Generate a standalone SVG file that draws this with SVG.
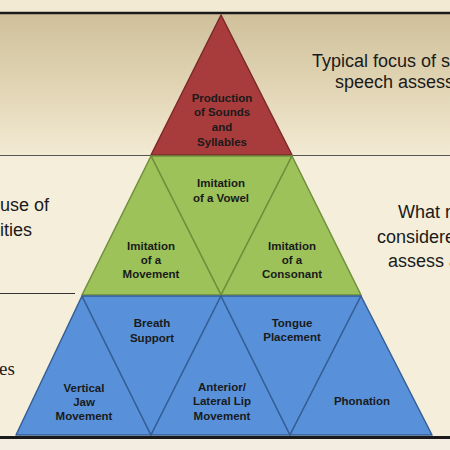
<svg xmlns="http://www.w3.org/2000/svg" width="450" height="450" viewBox="0 0 450 450">
<defs>
<linearGradient id="band" x1="0" y1="0" x2="0" y2="1">
<stop offset="0" stop-color="#cfc09a"/>
<stop offset="0.55" stop-color="#e2d6b6"/>
<stop offset="1" stop-color="#f3ead4"/>
</linearGradient>
<style>
.red{fill:#a83c3c;stroke:#7e2a2a;stroke-width:1.5;stroke-linejoin:round}
.grn{fill:#9cc259;stroke:#6f8f3a;stroke-width:1.5;stroke-linejoin:round}
.blu{fill:#5891da;stroke:#355f96;stroke-width:1.5;stroke-linejoin:round}
.lbl{font-family:"Liberation Sans",Arial,sans-serif;font-weight:bold;font-size:11.5px;fill:#1a1a1a;text-anchor:middle}
.side{font-family:"Liberation Sans",Arial,sans-serif;font-size:18px;fill:#1a1a1a}
.serif{font-family:"Liberation Serif","Times New Roman",serif;font-size:19px;fill:#1a1a1a}
</style>
</defs>
<rect x="0" y="0" width="450" height="450" fill="#f5eedb"/>
<rect x="0" y="0" width="450" height="13" fill="#f2ead3"/>
<rect x="0" y="13" width="450" height="142" fill="url(#band)"/>
<rect x="0" y="437" width="450" height="13" fill="#f2ede0"/>
<g id="rules">
<line x1="0" y1="13" x2="450" y2="13" stroke="#1a1a1a" stroke-width="2.5"/>
<line x1="0" y1="155.5" x2="450" y2="155.5" stroke="#555" stroke-width="1"/>
<line x1="0" y1="293.5" x2="75" y2="293.5" stroke="#333" stroke-width="1"/>
<line x1="0" y1="437.5" x2="450" y2="437.5" stroke="#1a1a1a" stroke-width="3"/>
</g>
<g id="side-texts">
<text class="side" x="312" y="67">Typical focus of s</text>
<text class="side" x="335" y="88">speech assess</text>
<text class="side" x="0" y="211">use of</text>
<text class="side" x="0" y="236">ities</text>
<text class="side" x="398" y="218">What r</text>
<text class="side" x="377" y="243">considere</text>
<text class="side" x="388" y="267">assess a</text>
<text class="serif" x="-1" y="375">es</text>
</g>
<g id="connectors"></g>
<g id="node-production">
<polygon class="red" points="221,15 292,155 151,155"/>
<text class="lbl" x="222" y="102">Production</text>
<text class="lbl" x="222" y="116">of Sounds</text>
<text class="lbl" x="222" y="131">and</text>
<text class="lbl" x="222" y="146">Syllables</text>
</g>
<g id="node-vowel">
<polygon class="grn" points="151,156 292,156 221,295"/>
<text class="lbl" x="221" y="187">Imitation</text>
<text class="lbl" x="221" y="202">of a Vowel</text>
</g>
<g id="node-movement">
<polygon class="grn" points="151,156 221,295 82,295"/>
<text class="lbl" x="151" y="250">Imitation</text>
<text class="lbl" x="151" y="264">of a</text>
<text class="lbl" x="151" y="278">Movement</text>
</g>
<g id="node-consonant">
<polygon class="grn" points="292,156 361,295 221,295"/>
<text class="lbl" x="292" y="250">Imitation</text>
<text class="lbl" x="292" y="264">of a</text>
<text class="lbl" x="292" y="278">Consonant</text>
</g>
<g id="node-jaw">
<polygon class="blu" points="82,296 151,435 16,435"/>
<text class="lbl" x="84" y="392">Vertical</text>
<text class="lbl" x="84" y="406">Jaw</text>
<text class="lbl" x="84" y="420">Movement</text>
</g>
<g id="node-breath">
<polygon class="blu" points="82,296 221,296 151,435"/>
<text class="lbl" x="152" y="327">Breath</text>
<text class="lbl" x="152" y="342">Support</text>
</g>
<g id="node-lip">
<polygon class="blu" points="221,296 290,435 151,435"/>
<text class="lbl" x="222" y="391">Anterior/</text>
<text class="lbl" x="222" y="405">Lateral Lip</text>
<text class="lbl" x="222" y="420">Movement</text>
</g>
<g id="node-tongue">
<polygon class="blu" points="221,296 361,296 290,435"/>
<text class="lbl" x="292" y="327">Tongue</text>
<text class="lbl" x="292" y="341">Placement</text>
</g>
<g id="node-phonation">
<polygon class="blu" points="361,296 432,435 290,435"/>
<text class="lbl" x="362" y="405">Phonation</text>
</g>
</svg>
